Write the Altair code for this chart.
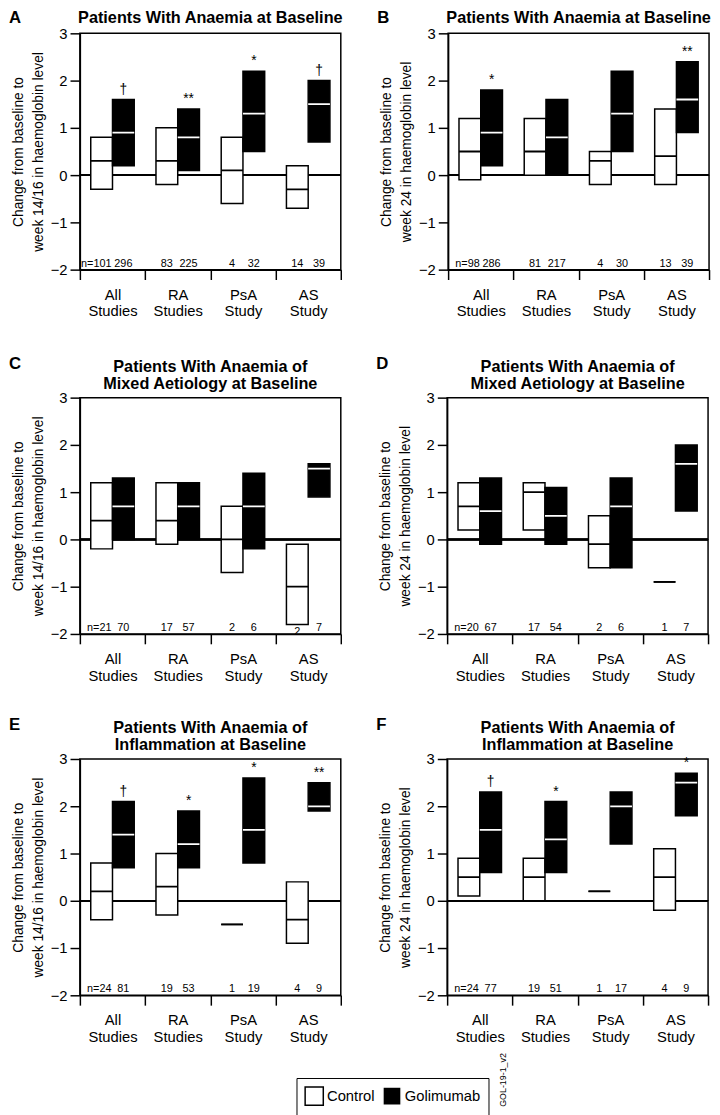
import altair as alt
import pandas as pd

FONT = "Liberation Sans"
categories = ["All Studies", "RA Studies", "PsA Study", "AS Study"]
groups = ["Control", "Golimumab"]

# Panel A: anaemia at baseline, week 14/16
a_ctrl_low = [-0.3, -0.2, -0.6, -0.7]
a_ctrl_med = [0.3, 0.3, 0.1, -0.3]
a_ctrl_high = [0.8, 1.0, 0.8, 0.2]
a_gol_low = [0.2, 0.1, 0.5, 0.7]
a_gol_med = [0.9, 0.8, 1.3, 1.5]
a_gol_high = [1.6, 1.4, 2.2, 2.0]
a_ctrl_n = [101, 83, 4, 14]
a_gol_n = [296, 225, 32, 39]
a_marks = ["†", "**", "*", "†"]

# Panel B: anaemia at baseline, week 24
b_ctrl_low = [-0.1, 0.0, -0.2, -0.2]
b_ctrl_med = [0.5, 0.5, 0.3, 0.4]
b_ctrl_high = [1.2, 1.2, 0.5, 1.4]
b_gol_low = [0.2, 0.0, 0.5, 0.9]
b_gol_med = [0.9, 0.8, 1.3, 1.6]
b_gol_high = [1.8, 1.6, 2.2, 2.4]
b_ctrl_n = [98, 81, 4, 13]
b_gol_n = [286, 217, 30, 39]
b_marks = ["*", "", "", "**"]

# Panel C: mixed aetiology, week 14/16
c_ctrl_low = [-0.2, -0.1, -0.7, -1.8]
c_ctrl_med = [0.4, 0.4, 0.0, -1.0]
c_ctrl_high = [1.2, 1.2, 0.7, -0.1]
c_gol_low = [0.0, 0.0, -0.2, 0.9]
c_gol_med = [0.7, 0.7, 0.7, 1.5]
c_gol_high = [1.3, 1.2, 1.4, 1.6]
c_ctrl_n = [21, 17, 2, 2]
c_gol_n = [70, 57, 6, 7]
c_marks = ["", "", "", ""]

# Panel D: mixed aetiology, week 24
d_ctrl_low = [0.2, 0.2, -0.6, -0.9]
d_ctrl_med = [0.7, 1.0, -0.1, -0.9]
d_ctrl_high = [1.2, 1.2, 0.5, -0.9]
d_gol_low = [-0.1, -0.1, -0.6, 0.6]
d_gol_med = [0.6, 0.5, 0.7, 1.6]
d_gol_high = [1.3, 1.1, 1.3, 2.0]
d_ctrl_n = [20, 17, 2, 1]
d_gol_n = [67, 54, 6, 7]
d_marks = ["", "", "", ""]

# Panel E: anaemia of inflammation, week 14/16
e_ctrl_low = [-0.4, -0.3, -0.5, -0.9]
e_ctrl_med = [0.2, 0.3, -0.5, -0.4]
e_ctrl_high = [0.8, 1.0, -0.5, 0.4]
e_gol_low = [0.7, 0.7, 0.8, 1.9]
e_gol_med = [1.4, 1.2, 1.5, 2.0]
e_gol_high = [2.1, 1.9, 2.6, 2.5]
e_ctrl_n = [24, 19, 1, 4]
e_gol_n = [81, 53, 19, 9]
e_marks = ["†", "*", "*", "**"]

# Panel F: anaemia of inflammation, week 24
f_ctrl_low = [0.1, 0.0, 0.2, -0.2]
f_ctrl_med = [0.5, 0.5, 0.2, 0.5]
f_ctrl_high = [0.9, 0.9, 0.2, 1.1]
f_gol_low = [0.6, 0.6, 1.2, 1.8]
f_gol_med = [1.5, 1.3, 2.0, 2.5]
f_gol_high = [2.3, 2.1, 2.3, 2.7]
f_ctrl_n = [24, 19, 1, 4]
f_gol_n = [77, 51, 17, 9]
f_marks = ["†", "*", "", "*"]

y_ticks = [-2, -1, 0, 1, 2, 3]

W, H = 265, 240


def panel(letter, title, ytitle, cl, cm, ch, gl, gm, gh, cn, gn, marks, extra=None):
    rows = []
    for i, c in enumerate(categories):
        rows.append(dict(cat=c, grp="Control", lo=cl[i], med=cm[i], hi=ch[i],
                         n=("n=" if i == 0 else "") + str(cn[i]), first=(i == 0), mark=""))
        rows.append(dict(cat=c, grp="Golimumab", lo=gl[i], med=gm[i], hi=gh[i],
                         n=str(gn[i]), first=False, mark=marks[i]))
    df = pd.DataFrame(rows)
    base = alt.Chart(df)

    yscale = alt.Scale(domain=[-2, 3], nice=False, zero=False)
    yaxis = alt.Axis(values=y_ticks, title=ytitle, tickSize=10, labelPadding=3,
                     titlePadding=5, labelFontSize=15, titleFontSize=14,
                     titleFontWeight="normal", titleLineHeight=20)
    x = alt.X("cat:N", sort=categories,
              scale=alt.Scale(paddingInner=0, paddingOuter=0),
              axis=alt.Axis(title=None, labelAngle=0, tickBand="extent", tickSize=10,
                            labelPadding=8, labelFontSize=15, labelLineHeight=17,
                            labelExpr="split(datum.label, ' ')"))
    xo = alt.XOffset("grp:N", sort=groups,
                     scale=alt.Scale(paddingOuter=0.5, paddingInner=0))

    zero = base.mark_rule(color="black", strokeWidth=1.5).encode(
        y=alt.YDatum(0, type="quantitative", scale=yscale, axis=yaxis)
    )
    boxes = base.mark_bar(stroke="black", strokeWidth=1.5).encode(
        x=x, xOffset=xo,
        y=alt.Y("lo:Q", scale=yscale, axis=yaxis),
        y2="hi:Q",
        fill=alt.Fill("grp:N", sort=groups,
                      scale=alt.Scale(domain=groups, range=["white", "black"]),
                      legend=alt.Legend(title=None)),
    )
    medians = base.mark_bar(fillOpacity=0, strokeWidth=1.8).encode(
        x=x, xOffset=xo,
        y=alt.Y("med:Q", scale=yscale, axis=yaxis),
        y2="med:Q",
        stroke=alt.Stroke("grp:N", sort=groups,
                          scale=alt.Scale(domain=groups, range=["black", "white"]),
                          legend=None),
    )
    marks_t = base.transform_filter("datum.mark != ''").mark_text(
        font=FONT, fontSize=14, baseline="bottom", dy=-3, color="black"
    ).encode(x=x, xOffset=xo, y=alt.Y("hi:Q", scale=yscale, axis=yaxis), text="mark:N")

    n_common = base.transform_calculate(
        ny="datum.lo < -1.6 ? -1.97 : -1.875"
    )
    n_first = n_common.transform_filter("datum.first").mark_text(
        font=FONT, fontSize=11, baseline="middle", align="right", dx=10, color="black"
    ).encode(x=x, xOffset=xo, y=alt.Y("ny:Q", scale=yscale, axis=yaxis), text="n:N")
    n_rest = n_common.transform_filter("!datum.first").mark_text(
        font=FONT, fontSize=11, baseline="middle", align="center", color="black"
    ).encode(x=x, xOffset=xo, y=alt.Y("ny:Q", scale=yscale, axis=yaxis), text="n:N")

    two_line = isinstance(title, list)
    letter_y = -34 if two_line else -15
    lett = alt.Chart(pd.DataFrame({"t": [letter]})).mark_text(
        font=FONT, fontSize=17, fontWeight="bold", align="left", baseline="middle", color="black"
    ).encode(x=alt.value(-72), y=alt.value(letter_y), text="t:N")

    lines = title if two_line else [title]
    tdf = pd.DataFrame({"t": lines, "i": list(range(len(lines)))})
    top_line_y = -31 if two_line else -16
    ttl = alt.Chart(tdf).transform_calculate(
        py=f"{top_line_y} + datum.i * 17"
    ).mark_text(
        font=FONT, fontSize=16.5, fontWeight="bold", align="center", baseline="middle", color="black"
    ).encode(x=alt.value(W / 2), y=alt.Y("py:Q", scale=None), text="t:N")

    layers = [zero, boxes, medians, marks_t, n_first, n_rest, lett, ttl]
    if extra is not None:
        layers.append(extra)
    return alt.layer(*layers).properties(width=W, height=H)


yt1 = ["Change from baseline to", "week 14/16 in haemoglobin level"]
yt2 = ["Change from baseline to", "week 24 in haemoglobin level"]
t1 = "Patients With Anaemia at Baseline"
t2 = ["Patients With Anaemia of", "Mixed Aetiology at Baseline"]
t3 = ["Patients With Anaemia of", "Inflammation at Baseline"]

code = alt.Chart(pd.DataFrame({"t": ["GOL-19-1_v2"]})).mark_text(
    font=FONT, fontSize=9, angle=270, align="center", baseline="middle", color="black"
).encode(x=alt.value(57), y=alt.value(326), text="t:N")

pA = panel("A", t1, yt1, a_ctrl_low, a_ctrl_med, a_ctrl_high, a_gol_low, a_gol_med, a_gol_high, a_ctrl_n, a_gol_n, a_marks)
pB = panel("B", t1, yt2, b_ctrl_low, b_ctrl_med, b_ctrl_high, b_gol_low, b_gol_med, b_gol_high, b_ctrl_n, b_gol_n, b_marks)
pC = panel("C", t2, yt1, c_ctrl_low, c_ctrl_med, c_ctrl_high, c_gol_low, c_gol_med, c_gol_high, c_ctrl_n, c_gol_n, c_marks)
pD = panel("D", t2, yt2, d_ctrl_low, d_ctrl_med, d_ctrl_high, d_gol_low, d_gol_med, d_gol_high, d_ctrl_n, d_gol_n, d_marks)
pE = panel("E", t3, yt1, e_ctrl_low, e_ctrl_med, e_ctrl_high, e_gol_low, e_gol_med, e_gol_high, e_ctrl_n, e_gol_n, e_marks)
pF = panel("F", t3, yt2, f_ctrl_low, f_ctrl_med, f_ctrl_high, f_gol_low, f_gol_med, f_gol_high, f_ctrl_n, f_gol_n, f_marks, extra=code)

SH = 33
top = alt.hconcat(pA, pB, spacing=SH)
mid = alt.hconcat(pC, pD, spacing=SH)
bot = alt.hconcat(pE, pF, spacing=SH)

chart = alt.vconcat(top, alt.vconcat(mid, bot, spacing=32), spacing=35).properties(
    padding={"left": 0, "top": -8, "right": 0, "bottom": 0}
).configure_view(
    stroke="black", strokeWidth=1.5
).configure_axis(
    grid=False, domainColor="black", domainWidth=1.5, tickColor="black", tickWidth=1.5,
    labelColor="black", titleColor="black", labelFont=FONT, titleFont=FONT
).configure_legend(
    orient="none", legendX=220, legendY=1061, direction="horizontal",
    strokeColor="black", padding=8, symbolType="square", symbolSize=340,
    symbolStrokeColor="black", symbolStrokeWidth=1.5, labelFontSize=15,
    labelFont=FONT, labelColor="black", columnPadding=4, labelOffset=3
)

chart.save("out.html", embed_options={"renderer": "svg", "actions": False})
